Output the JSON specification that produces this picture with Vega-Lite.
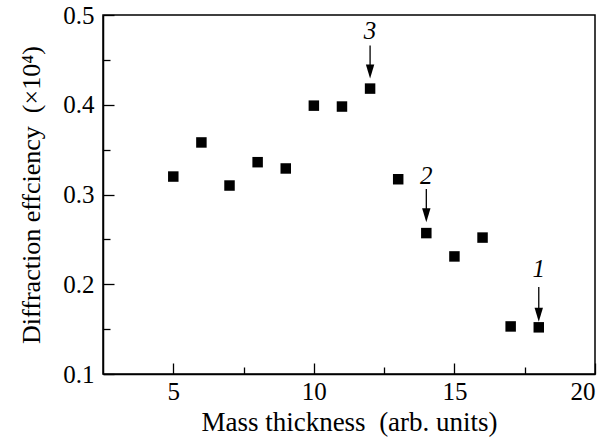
{
  "$schema": "https://vega.github.io/schema/vega-lite/v6.json",
  "width": 492,
  "height": 359,
  "autosize": {"type": "none"},
  "padding": {"left": 103, "top": 15, "right": 13, "bottom": 69},
  "background": "white",
  "config": {
    "view": {"stroke": "black", "strokeWidth": 1.5},
    "font": "Liberation Serif",
    "axis": {
      "domainColor": "black",
      "domainWidth": 1.5,
      "tickColor": "black",
      "tickWidth": 1.3,
      "grid": false,
      "labelFont": "Liberation Serif",
      "titleFont": "Liberation Serif",
      "labelColor": "black",
      "titleColor": "black",
      "labelFontSize": 25,
      "titleFontSize": 26,
      "titleFontWeight": "normal"
    }
  },
  "datasets": {
    "pts": [
      {"x": 5, "y": 0.320},
      {"x": 6, "y": 0.358},
      {"x": 7, "y": 0.310},
      {"x": 8, "y": 0.336},
      {"x": 9, "y": 0.329},
      {"x": 10, "y": 0.399},
      {"x": 11, "y": 0.398},
      {"x": 12, "y": 0.418},
      {"x": 13, "y": 0.317},
      {"x": 14, "y": 0.257},
      {"x": 15, "y": 0.231},
      {"x": 16, "y": 0.252},
      {"x": 17, "y": 0.153},
      {"x": 18, "y": 0.152}
    ],
    "ann": [
      {"x": 12, "label": "3", "ly": 0.482, "ytop": 0.466, "yhead": 0.437},
      {"x": 14, "label": "2", "ly": 0.321, "ytop": 0.306, "yhead": 0.277},
      {"x": 18, "label": "1", "ly": 0.217, "ytop": 0.197, "yhead": 0.166}
    ]
  },
  "layer": [
    {
      "data": {"name": "pts"},
      "mark": {"type": "point", "shape": "square", "filled": true, "color": "black", "opacity": 1, "size": 110},
      "encoding": {
        "x": {
          "field": "x", "type": "quantitative",
          "scale": {"domain": [2.5, 20], "nice": false, "zero": false},
          "axis": {
            "title": "Mass thickness\u00a0\u00a0(arb. units)",
            "titleFontSize": 27,
            "values": [5, 7.5, 10, 12.5, 15, 17.5, 20],
            "labelExpr": "datum.value % 5 === 0 ? datum.label : ''",
            "tickSize": {"condition": {"test": "datum.value % 5 === 0", "value": -11}, "value": -7},
            "labelPadding": 16,
            "titlePadding": 5
          }
        },
        "y": {
          "field": "y", "type": "quantitative",
          "scale": {"domain": [0.1, 0.5], "nice": false, "zero": false},
          "axis": {
            "title": "Diffraction effciency\u00a0\u00a0(×10⁴)",
            "titleFontSize": 26,
            "values": [0.1, 0.15, 0.2, 0.25, 0.3, 0.35, 0.4, 0.45, 0.5],
            "labelExpr": "round(datum.value*100) % 10 === 0 ? format(datum.value, '.1f') : ''",
            "tickSize": {"condition": {"test": "round(datum.value*100) % 10 === 0", "value": -11}, "value": -7},
            "labelPadding": 20,
            "titlePadding": 18
          }
        }
      }
    },
    {
      "data": {"name": "ann"},
      "mark": {"type": "rule", "color": "black", "strokeWidth": 1.3},
      "encoding": {
        "x": {"field": "x", "type": "quantitative"},
        "y": {"field": "ytop", "type": "quantitative"},
        "y2": {"field": "yhead"}
      }
    },
    {
      "data": {"name": "ann"},
      "mark": {"type": "point", "shape": "M-0.6,-1L0.6,-1L0,1Z", "filled": true, "color": "black", "opacity": 1, "size": 196},
      "encoding": {
        "x": {"field": "x", "type": "quantitative"},
        "y": {"field": "yhead", "type": "quantitative"}
      }
    },
    {
      "data": {"name": "ann"},
      "mark": {"type": "text", "font": "Liberation Serif", "fontStyle": "italic", "fontSize": 25, "color": "black", "baseline": "middle", "align": "center"},
      "encoding": {
        "x": {"field": "x", "type": "quantitative"},
        "y": {"field": "ly", "type": "quantitative"},
        "text": {"field": "label"}
      }
    }
  ]
}
